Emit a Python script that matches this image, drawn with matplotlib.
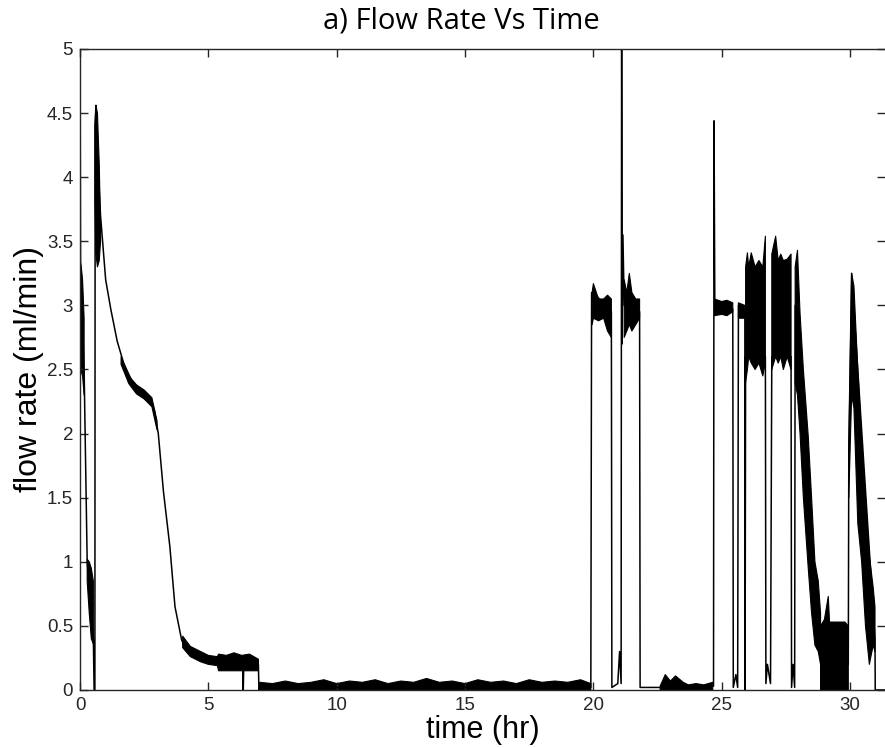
import numpy as np
import matplotlib
matplotlib.use('Agg')
import matplotlib.pyplot as plt

nan = np.nan

# main trace (time in hr, flow in ml/min)
t_main = [0, 0, 0.02, 0.16, 0.28, 0.52, 0.55, 0.58, 0.59, 0.62, 0.7, 0.8, 0.88, 1.0, 1.2,
          1.45, 1.7, 2.0, 2.4, 2.75, 2.9, 3.05, 3.25, 3.5, 3.7, 3.96, 4.1, 4.6, 5.3, 5.4,
          6.34, 6.36, 6.38, 6.95, 6.97, 7.0, 19.9, 19.93, 20.0, 20.7, 20.72, 20.95, 21.02,
          21.08, 21.1, 21.12, 21.15, 21.2, 21.8, 21.82, 22.6, 24.68, 24.7, 24.73, 25.43, 25.45,
          25.55, 25.62, 25.65, 25.9, 25.91, 25.93, 26.7, 26.72, 26.78, 26.9, 26.95, 27.7,
          27.72, 27.78, 27.84, 27.86, 28.85, 28.87, 29.93, 29.95, 30.06, 30.97, 30.98, 31.36]
q_main = [0, 5.3, 3.35, 2.5, 1.0, 0.4, 0, 0, 4.4, 4.56, 4.1, 3.7, 3.5, 3.2, 2.97,
          2.72, 2.55, 2.42, 2.33, 2.27, 2.18, 2.0, 1.55, 1.12, 0.65, 0.39, 0.33, 0.27, 0.23, 0.2,
          0.2, 0, 0.2, 0.2, 0, 0.02, 0.02, 3.1, 3.1, 2.95, 0.02, 0.05, 0.3,
          0.05, 5.3, 2.7, 3.55, 3.0, 2.95, 0.02, 0.02, 0.03, 4.44, 3.0, 2.97, 0.02,
          0.12, 0.02, 3.0, 2.95, 0, 2.6, 2.6, 0.05, 0.2, 0.05, 2.6, 2.6,
          0.02, 0.2, 0.02, 3.0, 0.3, 0, 0.2, 1.87, 3.25, 0.4, 0, 0]

# noisy stretches: lower / upper envelope, nan splits the stretches
band_t = [0.0, 0.05, 0.1, 0.16, nan,
          0.28, 0.36, 0.44, 0.52, nan,
          0.58, 0.62, 0.68, 0.75, 0.8, nan,
          1.6, 1.9, 2.2, 2.5, 2.8, 3.0, nan,
          4.0, 4.3, 4.7, 5.0, 5.35, 5.4, 5.7, 6.0, 6.3, 6.6, 6.95, nan,
          7.0, 7.5, 8.0, 8.5, 9.0, 9.5, 10.0, 10.5, 11.0, 11.5, 12.0, 12.5, 13.0, 13.5,
          14.0, 14.5, 15.0, 15.5, 16.0, 16.5, 17.0, 17.5, 18.0, 18.5, 19.0, 19.5, 19.9, nan,
          19.95, 20.0, 20.2, 20.4, 20.55, 20.7, nan,
          21.2, 21.3, 21.4, 21.5, 21.65, 21.8, nan,
          22.6, 22.8, 23.0, 23.2, 23.5, 23.7, 24.0, 24.3, 24.65, nan,
          24.72, 25.0, 25.2, 25.43, nan,
          25.65, 25.9, nan,
          25.93, 26.0, 26.05, 26.15, 26.3, 26.45, 26.6, 26.7, nan,
          26.95, 27.1, 27.2, 27.3, 27.4, 27.55, 27.7, nan,
          27.86, 27.95, 28.05, 28.18, 28.37, 28.5, 28.63, 28.76, 28.85, nan,
          28.85, 29.0, 29.15, 29.2, 29.3, 29.4, 29.6, 29.8, 29.93, nan,
          29.95, 30.06, 30.15, 30.3, 30.45, 30.6, 30.75, 30.9, 30.97]
band_lo = [2.42, 2.5, 2.45, 2.3, nan,
           0.85, 0.6, 0.4, 0.36, nan,
           3.8, 3.4, 3.3, 3.35, 3.5, nan,
           2.54, 2.39, 2.31, 2.27, 2.21, 2.03, nan,
           0.33, 0.26, 0.22, 0.2, 0.19, 0.15, 0.15, 0.15, 0.15, 0.15, 0.15, nan,
           0, 0, 0, 0, 0, 0, 0, 0, 0, 0, 0, 0, 0, 0,
           0, 0, 0, 0, 0, 0, 0, 0, 0, 0, 0, 0, 0, nan,
           2.85, 2.9, 2.88, 2.9, 2.8, 2.75, nan,
           2.75, 2.8, 2.85, 2.8, 2.85, 2.9, nan,
           0, 0, 0, 0, 0, 0, 0, 0, 0, nan,
           2.92, 2.93, 2.92, 2.95, nan,
           2.9, 2.9, nan,
           2.4, 2.5, 2.6, 2.55, 2.5, 2.55, 2.45, 2.55, nan,
           2.5, 2.6, 2.55, 2.6, 2.5, 2.6, 2.5, nan,
           2.4, 2.3, 2.0, 1.5, 0.95, 0.6, 0.35, 0.3, 0.2, nan,
           0, 0, 0, 0, 0, 0, 0, 0, 0, nan,
           1.5, 2.3, 2.2, 1.3, 1.0, 0.5, 0.2, 0.35, 0.3]
band_hi = [3.35, 3.3, 3.2, 2.9, nan,
           1.02, 1.0, 0.95, 0.85, nan,
           4.4, 4.56, 4.5, 4.1, 3.6, nan,
           2.6, 2.45, 2.38, 2.34, 2.28, 2.1, nan,
           0.42, 0.34, 0.3, 0.27, 0.26, 0.28, 0.27, 0.29, 0.27, 0.28, 0.24, nan,
           0.06, 0.05, 0.07, 0.05, 0.06, 0.08, 0.05, 0.07, 0.06, 0.08, 0.05, 0.07, 0.06, 0.09,
           0.06, 0.07, 0.05, 0.08, 0.06, 0.07, 0.05, 0.08, 0.06, 0.07, 0.06, 0.08, 0.05, nan,
           3.1, 3.17, 3.05, 3.05, 3.08, 3.05, nan,
           3.2, 3.1, 3.25, 3.1, 3.05, 3.05, nan,
           0.03, 0.12, 0.07, 0.11, 0.06, 0.04, 0.05, 0.04, 0.06, nan,
           3.05, 3.03, 3.04, 3.02, nan,
           3.02, 3.0, nan,
           3.3, 3.41, 3.3, 3.41, 3.3, 3.35, 3.3, 3.54, nan,
           3.4, 3.54, 3.35, 3.4, 3.35, 3.36, 3.4, nan,
           3.3, 3.43, 2.94, 2.5, 1.98, 1.5, 1.0, 0.85, 0.6, nan,
           0.5, 0.55, 0.73, 0.53, 0.53, 0.53, 0.53, 0.53, 0.5, nan,
           1.9, 3.25, 3.15, 2.5, 1.95, 1.5, 1.05, 0.8, 0.65]

x_ticks = [0, 5, 10, 15, 20, 25, 30]
y_ticks = [0, 0.5, 1, 1.5, 2, 2.5, 3, 3.5, 4, 4.5, 5]
y_ticklabels = ['0', '0.5', '1', '1.5', '2', '2.5', '3', '3.5', '4', '4.5', '5']

plt.rcParams['font.family'] = ['Liberation Sans', 'DejaVu Sans']

fig = plt.figure(figsize=(8.85, 7.48), dpi=100)
ax = fig.add_axes([80 / 885, 58 / 748, 805 / 885, 641 / 748])

ax.fill_between(band_t, band_lo, band_hi, color='black', lw=0.8)
ax.plot(t_main, q_main, color='black', lw=1.1)

ax.set_xlim(0, 31.36)
ax.set_ylim(0, 5)
ax.set_xticks(x_ticks)
ax.set_yticks(y_ticks)
ax.set_yticklabels(y_ticklabels)

grey = '#262626'
for s in ['left', 'bottom', 'top']:
    ax.spines[s].set_color(grey)
    ax.spines[s].set_linewidth(1.0)
ax.spines['right'].set_visible(False)
ax.tick_params(direction='in', length=6, width=1.0, color=grey, labelcolor=grey,
               labelsize=13.5, top=True, right=True)
ax.tick_params(axis='x', pad=5)
ax.tick_params(axis='y', pad=5)

ax.set_xlabel('time (hr)', fontsize=22, labelpad=1)
ax.set_ylabel('flow rate (ml/min)', fontsize=23, labelpad=2)

fig.text(461 / 885, 1 - 21 / 748, 'a) Flow Rate Vs Time', family='Open Sans',
         fontsize=21, ha='center', va='center')

fig.savefig('out.png', dpi=100)
